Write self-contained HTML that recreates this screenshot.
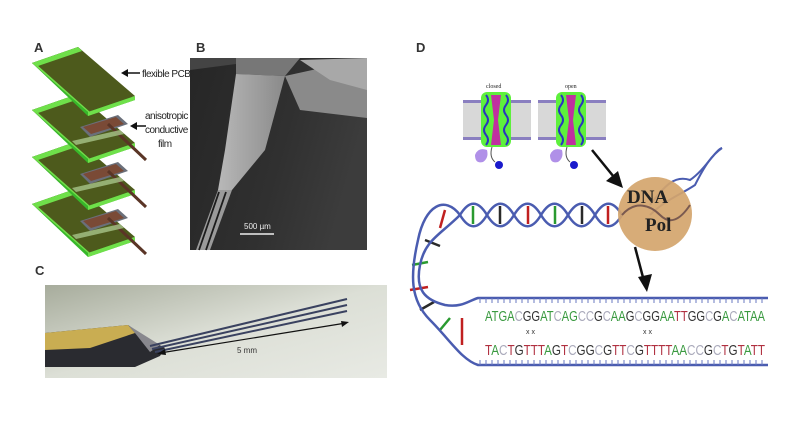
<!DOCTYPE html>
<html><head><meta charset="utf-8"><style>
body{margin:0;background:#fff;}
svg{display:block;font-family:"Liberation Sans",sans-serif;}
</style></head><body>
<svg width="793" height="448" viewBox="0 0 793 448" xmlns="http://www.w3.org/2000/svg">
<defs>
<linearGradient id="semg" x1="0" y1="0" x2="1" y2="0.3"><stop offset="0" stop-color="#262626"/><stop offset="0.6" stop-color="#303030"/><stop offset="1" stop-color="#3c3c3c"/></linearGradient>
<linearGradient id="photo" x1="0" y1="0" x2="1" y2="1"><stop offset="0" stop-color="#a7ac9c"/><stop offset="0.5" stop-color="#dcdfd6"/><stop offset="1" stop-color="#e8eae4"/></linearGradient>
<linearGradient id="fan" x1="0" y1="0" x2="1" y2="0"><stop offset="0" stop-color="#b8b8b8"/><stop offset="1" stop-color="#8a8a8a"/></linearGradient>
<g id="plate">
<polygon points="32,63 78,47 135,100 88,116" fill="#37b82a"/>
<polygon points="32,63 78,47 135,96 88,112" fill="#4d5a1c"/>
<polygon points="32,63 78,47 82,51 38,66" fill="#6fe04a"/>
<polygon points="88,112 135,96 135,100 88,116" fill="#6fe04a"/>
<polygon points="32,63 36,64 90,112 88,112" fill="#6fe04a"/>
</g>
<g id="elec">
<polygon points="80,127 118,115 128,124 90,137" fill="#6a6f7a"/>
<polygon points="83,127 116,117 124,124 91,134" fill="#7a4a36"/>
<line x1="108" y1="124" x2="146" y2="160" stroke="#5a3526" stroke-width="3"/>
<polygon points="72,141 120,130 124,134 76,145" fill="#a7c48a" opacity="0.8"/>
</g>
</defs>
<!-- Panel A -->
<text x="34" y="52" font-size="13" font-weight="bold" fill="#333">A</text>
<use href="#plate" transform="translate(0,141)"/>
<use href="#elec" transform="translate(0,94)"/>
<use href="#plate" transform="translate(0,94)"/>
<use href="#elec" transform="translate(0,47)"/>
<use href="#plate" transform="translate(0,47)"/>
<use href="#elec" transform="translate(0,0)"/>
<use href="#plate"/>
<line x1="124" y1="73" x2="140" y2="73" stroke="#111" stroke-width="1.5"/>
<polygon points="121,73 128,69 128,77" fill="#111"/>
<text x="142" y="77" font-size="10" fill="#222" letter-spacing="-0.5">flexible PCB</text>
<line x1="133" y1="126" x2="146" y2="126" stroke="#111" stroke-width="1.5"/>
<polygon points="130,126 137,122 137,130" fill="#111"/>
<text x="145" y="119" font-size="10" fill="#222" letter-spacing="-0.5">anisotropic</text>
<text x="145" y="133" font-size="10" fill="#222" letter-spacing="-0.5">conductive</text>
<text x="158" y="147" font-size="10" fill="#222" letter-spacing="-0.5">film</text>
<!-- Panel B -->
<text x="196" y="52" font-size="13" font-weight="bold" fill="#333">B</text>
<rect x="190" y="58" width="177" height="192" fill="url(#semg)"/>
<polygon points="190,58 236,58 236,64 190,70" fill="#444"/>
<polygon points="285,76 367,58 367,118 300,110" fill="#8a8a8a"/>
<polygon points="300,60 367,58 367,90 330,80" fill="#a8a8a8"/>
<polygon points="236,58 300,58 285,76 236,74" fill="#777"/>
<polygon points="236,74 285,76 265,150 232,190 218,190 225,150" fill="url(#fan)"/>
<polygon points="218,190 232,190 210,250 196,250" fill="#9a9a9a"/>
<line x1="219" y1="192" x2="199" y2="250" stroke="#1c1c1c" stroke-width="1.8"/>
<line x1="226" y1="192" x2="206" y2="250" stroke="#1c1c1c" stroke-width="1.8"/>
<text x="244" y="229" font-size="8" fill="#eee">500 µm</text>
<line x1="240" y1="234" x2="274" y2="234" stroke="#eee" stroke-width="1.5"/>
<!-- Panel C -->
<text x="35" y="275" font-size="13" font-weight="bold" fill="#333">C</text>
<rect x="45" y="285" width="342" height="93" fill="url(#photo)"/>
<polygon points="45,333 128,325 150,340 165,348 160,356 135,367 45,367" fill="#2a2b30"/>
<polygon points="45,333 128,325 135,333 90,348 45,350" fill="#c9ad52"/>
<polygon points="128,325 160,345 150,352 135,333" fill="#88888e"/>
<line x1="150" y1="346" x2="347" y2="299" stroke="#3a4260" stroke-width="2"/>
<line x1="152" y1="349" x2="347" y2="305" stroke="#3a4260" stroke-width="2"/>
<line x1="155" y1="352" x2="347" y2="311" stroke="#3a4260" stroke-width="2"/>
<line x1="160" y1="353" x2="346" y2="323" stroke="#111" stroke-width="1.2"/>
<polygon points="157,354 165,349 166,355" fill="#111"/>
<polygon points="349,322 341,321 342,327" fill="#111"/>
<text x="237" y="353" font-size="8" fill="#333">5 mm</text>
<!-- Panel D -->
<text x="416" y="52" font-size="13" font-weight="bold" fill="#333">D</text>
<g id="chan">
<rect x="463" y="100" width="68" height="40" fill="#d8d8d8"/>
<rect x="463" y="100" width="68" height="3" fill="#8a7fc0"/>
<rect x="463" y="137" width="68" height="3" fill="#8a7fc0"/>
<rect x="481" y="92" width="30" height="55" rx="6" fill="#5ef03c"/>
<path d="M486,95 q4,5 0,10 q-4,5 0,10 q4,5 0,10 q-4,5 0,10 q4,5 0,10" stroke="#2a34c0" stroke-width="2" fill="none"/>
<path d="M506,95 q4,5 0,10 q-4,5 0,10 q4,5 0,10 q-4,5 0,10 q4,5 0,10" stroke="#2a34c0" stroke-width="2" fill="none"/>
<polygon points="491,95 501,95 498,120 501,145 491,145 494,120" fill="#c030a0"/>
<path d="M475,155 q3,-8 12,-5 q2,8 -4,12 q-8,2 -8,-7z" fill="#b090e8"/>
<circle cx="499" cy="165" r="4" fill="#1a1acc"/>
<path d="M492,147 q-3,10 3,15" stroke="#555" fill="none"/>
</g>
<text x="486" y="88" font-size="6" font-family="Liberation Serif,serif" fill="#222">closed</text>
<use href="#chan" transform="translate(75,0)"/>
<text x="565" y="88" font-size="6" font-family="Liberation Serif,serif" fill="#222">open</text>
<!-- helix -->
<g stroke-width="2.5">
<line x1="608" y1="206" x2="608" y2="224" stroke="#c02020"/><line x1="582" y1="206" x2="582" y2="224" stroke="#2a2a2a"/>
<line x1="555" y1="206" x2="555" y2="224" stroke="#2a9a30"/><line x1="528" y1="206" x2="528" y2="224" stroke="#c02020"/>
<line x1="500" y1="206" x2="500" y2="224" stroke="#2a2a2a"/><line x1="473" y1="206" x2="473" y2="224" stroke="#2a9a30"/>
<line x1="445" y1="210" x2="440" y2="228" stroke="#c02020"/><line x1="425" y1="240" x2="440" y2="246" stroke="#2a2a2a"/>
<line x1="412" y1="265" x2="428" y2="262" stroke="#2a9a30"/><line x1="410" y1="290" x2="428" y2="287" stroke="#c02020"/>
<line x1="420" y1="310" x2="434" y2="302" stroke="#2a2a2a"/><line x1="440" y1="330" x2="450" y2="318" stroke="#2a9a30"/>
<line x1="462" y1="318" x2="462" y2="345" stroke="#c02020"/>
</g>
<path d="M622,215 C613,200 604,200 595,215 C586,230 577,230 568,215 C559,200 550,200 541,215 C532,230 523,230 514,215 C505,200 496,200 487,215 C478,230 469,230 460,215 C445,195 425,205 418,240 C410,275 410,300 430,320 C450,340 462,360 478,365 L768,365" stroke="#4a5cb0" stroke-width="2.5" fill="none"/>
<path d="M622,215 C613,230 604,230 595,215 C586,200 577,200 568,215 C559,230 550,230 541,215 C532,200 523,200 514,215 C505,230 496,230 487,215 C478,200 469,200 460,215 C440,235 425,240 420,265 C415,290 425,300 445,305 C462,308 470,300 478,298 L768,298" stroke="#4a5cb0" stroke-width="2.5" fill="none"/>
<path d="M650,205 C665,185 675,175 690,180 C705,170 715,150 722,148" stroke="#4a5cb0" stroke-width="2" fill="none"/>
<path d="M650,215 C665,200 680,195 695,185 C705,165 712,155 722,148" stroke="#4a5cb0" stroke-width="2" fill="none"/>
<g stroke="#6a7ac0" stroke-width="1">
<path d="M480,298 v5 M486,298 v5 M492,298 v5 M498,298 v5 M504,298 v5 M510,298 v5 M516,298 v5 M522,298 v5 M528,298 v5 M534,298 v5 M540,298 v5 M546,298 v5 M552,298 v5 M558,298 v5 M564,298 v5 M570,298 v5 M576,298 v5 M582,298 v5 M588,298 v5 M594,298 v5 M600,298 v5 M606,298 v5 M612,298 v5 M618,298 v5 M624,298 v5 M630,298 v5 M636,298 v5 M642,298 v5 M648,298 v5 M654,298 v5 M660,298 v5 M666,298 v5 M672,298 v5 M678,298 v5 M684,298 v5 M690,298 v5 M696,298 v5 M702,298 v5 M708,298 v5 M714,298 v5 M720,298 v5 M726,298 v5 M732,298 v5 M738,298 v5 M744,298 v5 M750,298 v5 M756,298 v5 M762,298 v5"/>
<path d="M480,360 v5 M486,360 v5 M492,360 v5 M498,360 v5 M504,360 v5 M510,360 v5 M516,360 v5 M522,360 v5 M528,360 v5 M534,360 v5 M540,360 v5 M546,360 v5 M552,360 v5 M558,360 v5 M564,360 v5 M570,360 v5 M576,360 v5 M582,360 v5 M588,360 v5 M594,360 v5 M600,360 v5 M606,360 v5 M612,360 v5 M618,360 v5 M624,360 v5 M630,360 v5 M636,360 v5 M642,360 v5 M648,360 v5 M654,360 v5 M660,360 v5 M666,360 v5 M672,360 v5 M678,360 v5 M684,360 v5 M690,360 v5 M696,360 v5 M702,360 v5 M708,360 v5 M714,360 v5 M720,360 v5 M726,360 v5 M732,360 v5 M738,360 v5 M744,360 v5 M750,360 v5 M756,360 v5 M762,360 v5"/>
</g>
<circle cx="655" cy="214" r="37" fill="#d4a56c" opacity="0.92"/>
<path d="M622,215 C635,200 650,205 660,215 C670,225 680,220 690,205" stroke="#7a5a50" stroke-width="2" fill="none"/>
<text x="627" y="203" font-size="19" font-weight="bold" font-family="Liberation Serif,serif" fill="#222">DNA</text>
<text x="645" y="231" font-size="19" font-weight="bold" font-family="Liberation Serif,serif" fill="#222">Pol</text>
<line x1="592" y1="150" x2="618" y2="182" stroke="#111" stroke-width="2.5"/>
<polygon points="623,188 606,181 618,171" fill="#111"/>
<line x1="635" y1="247" x2="645" y2="285" stroke="#111" stroke-width="2.5"/>
<polygon points="647,292 638,277 652,274" fill="#111"/>
<text x="485" y="321" font-size="15" fill="#3a9a40" textLength="280" lengthAdjust="spacingAndGlyphs">ATGA<tspan fill="#aab">C</tspan><tspan fill="#333">GG</tspan>AT<tspan fill="#aab">C</tspan>AG<tspan fill="#aab">CC</tspan><tspan fill="#333">G</tspan><tspan fill="#aab">C</tspan>AA<tspan fill="#333">G</tspan><tspan fill="#aab">C</tspan><tspan fill="#333">GG</tspan>AA<tspan fill="#b03040">TT</tspan><tspan fill="#333">GG</tspan><tspan fill="#aab">C</tspan><tspan fill="#333">G</tspan>A<tspan fill="#aab">C</tspan>ATAA</text>
<text x="526" y="334" font-size="7" fill="#333">x x</text>
<text x="643" y="334" font-size="7" fill="#333">x x</text>
<text x="485" y="355" font-size="15" fill="#b03040" textLength="280" lengthAdjust="spacingAndGlyphs">T<tspan fill="#3a9a40">A</tspan><tspan fill="#aab">C</tspan>T<tspan fill="#333">G</tspan>TTT<tspan fill="#3a9a40">A</tspan><tspan fill="#333">G</tspan>T<tspan fill="#aab">C</tspan><tspan fill="#333">GG</tspan><tspan fill="#aab">C</tspan><tspan fill="#333">G</tspan>TT<tspan fill="#aab">C</tspan><tspan fill="#333">G</tspan>TTTT<tspan fill="#3a9a40">AA</tspan><tspan fill="#aab">CC</tspan><tspan fill="#333">G</tspan><tspan fill="#aab">C</tspan>T<tspan fill="#333">G</tspan>T<tspan fill="#3a9a40">A</tspan>TT</text>
</svg>
</body></html>
